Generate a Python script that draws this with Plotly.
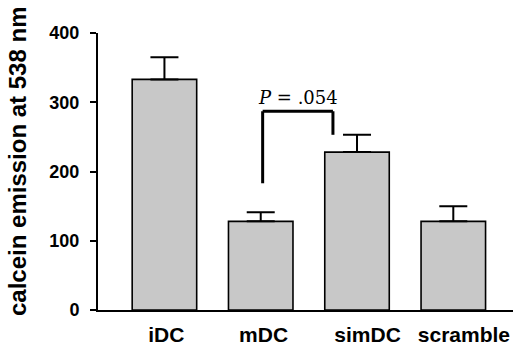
import plotly.graph_objects as go

categories = ["iDC", "mDC", "simDC", "scramble"]
values = [333, 128, 228, 128]
errors = [32, 13, 25, 22]
y_ticks = [0, 100, 200, 300, 400]
label_offsets = [0.02, 0.03, 0.11, 0.11]  # small shifts of category labels

# significance bracket (data coordinates)
bracket_left_x = 1.02
bracket_right_x = 1.75
bracket_top = 287
bracket_left_bottom = 183
bracket_right_bottom = 253
p_label = "<i>P</i> = .054"

W, H = 520, 347
ML, MR, MT, MB = 98, 7, 33, 37

fig = go.Figure()
fig.add_trace(go.Bar(
    x=list(range(len(categories))), y=values,
    width=0.67,
    marker=dict(color="#c8c8c8", line=dict(color="black", width=1.6)),
    error_y=dict(type="data", array=errors, symmetric=False, arrayminus=[0]*4,
                 color="black", thickness=2, width=14),
    hoverinfo="skip",
))

for xs, ys in [([bracket_left_x, bracket_left_x], [bracket_left_bottom, bracket_top]),
               ([bracket_left_x, bracket_right_x], [bracket_top, bracket_top]),
               ([bracket_right_x, bracket_right_x], [bracket_top, bracket_right_bottom])]:
    fig.add_shape(type="line", x0=xs[0], x1=xs[1], y0=ys[0], y1=ys[1],
                  xref="x", yref="y", line=dict(color="black", width=3))

fig.add_annotation(x=(bracket_left_x + bracket_right_x) / 2, y=bracket_top,
                   xref="x", yref="y", text=p_label, showarrow=False,
                   yanchor="bottom", yshift=1,
                   font=dict(family="DejaVu Serif", size=18, color="black"))

plot_w = W - ML - MR
plot_h = H - MT - MB
fig.add_annotation(x=(17 - ML) / plot_w, y=(H - MB - 162) / plot_h,
                   xref="paper", yref="paper",
                   text="<b>calcein emission at 538 nm</b>", textangle=-90,
                   showarrow=False, xanchor="center", yanchor="middle",
                   font=dict(family="Liberation Sans", size=24, color="black"))

fig.update_layout(
    width=W, height=H,
    margin=dict(l=ML, r=MR, t=MT, b=MB),
    paper_bgcolor="white", plot_bgcolor="white",
    showlegend=False,
    xaxis=dict(range=[-0.69, 3.62], tickmode="array", automargin=False,
               tickvals=[i + o for i, o in enumerate(label_offsets)],
               ticktext=["<b>%s</b>" % c for c in categories],
               showline=True, linecolor="black", linewidth=2,
               ticks="", showgrid=False, zeroline=False,
               tickfont=dict(family="Liberation Sans", size=21, color="black"),
               ticklabelstandoff=5),
    yaxis=dict(range=[0, 400], tickvals=y_ticks, automargin=False,
               ticktext=["<b>%d</b>" % v for v in y_ticks],
               showline=True, linecolor="black", linewidth=2,
               ticks="outside", ticklen=6, tickwidth=2, tickcolor="black",
               showgrid=False, zeroline=False,
               tickfont=dict(family="Liberation Sans", size=18, color="black"),
               ticklabelstandoff=7),
)
fig.write_html("out.html", config={"displayModeBar": False},
               post_script="document.body.style.margin='0';")
